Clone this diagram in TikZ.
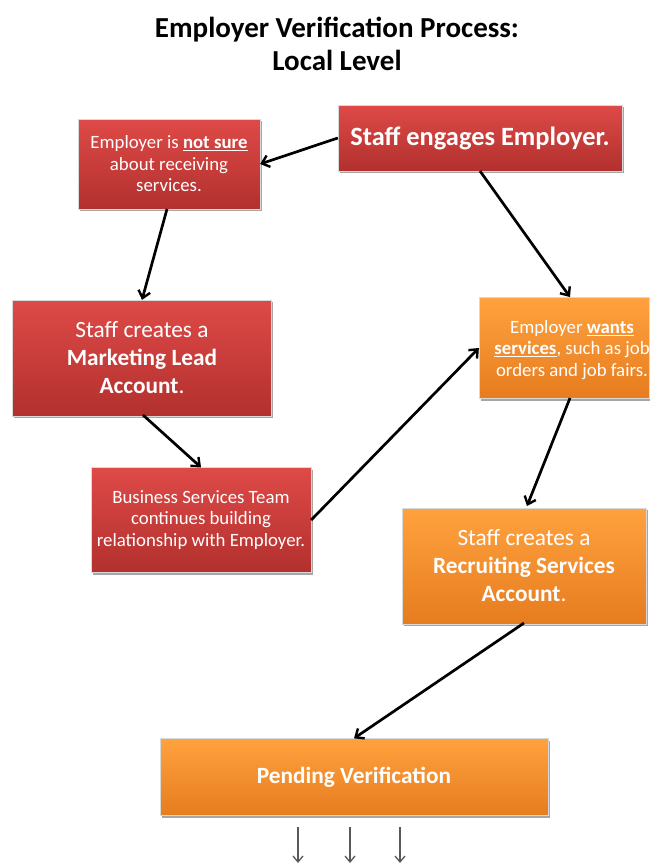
\documentclass[tikz,border=0pt]{standalone}
\usepackage{fontspec}
\setmainfont{Carlito}
\usetikzlibrary{arrows.meta,shadows}
\definecolor{redtop}{HTML}{DE4A47}
\definecolor{redbot}{HTML}{B2302E}
\definecolor{oratop}{HTML}{FFA23E}
\definecolor{orabot}{HTML}{E67C1F}
\newcommand{\wul}[1]{\underline{#1}}
\tikzset{
  box/.style={rectangle, text=white, align=center, inner sep=2pt,
    drop shadow={shadow xshift=1.5pt, shadow yshift=-2pt, opacity=0.35, fill=black},
    draw=black!15, line width=0.3pt},
  redbox/.style={box, top color=redtop, bottom color=redbot},
  orabox/.style={box, top color=oratop, bottom color=orabot},
  small/.style={font=\fontsize{18.8}{21.5}\selectfont},
  mid/.style={font=\fontsize{23.3}{28}\selectfont},
  conn/.style={-{Straight Barb[length=7pt,width=12pt,line width=2.4pt]}, line width=2.7pt, black},
  down/.style={-{Straight Barb[length=6pt,width=10pt,line width=1.3pt]}, line width=1.6pt, black!65}
}
\begin{document}
\begin{tikzpicture}[x=1pt,y=-1pt]
\useasboundingbox (0,0) rectangle (650,865);
\node[font=\fontsize{29}{33}\selectfont\bfseries, align=center] (title) at (337,44)
  {Employer Verification Process:\\Local Level};

\node[redbox, minimum width=284, minimum height=66, font=\fontsize{26.4}{30}\selectfont\bfseries] (engage) at (480,138) {Staff engages Employer.};
\node[redbox, small, minimum width=182, minimum height=90] (notsure) at (169,164)
  {Employer is \textbf{\wul{not sure}}\\about receiving\\services.};
\node[redbox, mid, minimum width=259, minimum height=116] (mla) at (142,358)
  {Staff creates a\\\textbf{Marketing Lead}\\\textbf{Account}.};
\node[redbox, small, minimum width=220, minimum height=105] (bst) at (201,520)
  {Business Services Team\\continues building\\relationship with Employer.};
\node[orabox, minimum width=170, minimum height=101] (wants) at (564,348) {};
\node[text=white, small, align=center, inner sep=0pt] (wantsT) at (572,350)
  {Employer \textbf{\wul{wants}}\\\textbf{\wul{services}}, such as job\\orders and job fairs.};
\node[orabox, mid, minimum width=244, minimum height=116] (rsa) at (524,566)
  {Staff creates a\\\textbf{Recruiting Services}\\\textbf{Account}.};
\node[orabox, minimum width=388, minimum height=77, font=\fontsize{23.3}{26}\selectfont\bfseries] (pend) at (354,777)
  {Pending Verification};

\draw[conn] (engage.west) -- (notsure.east);
\draw[conn] (167,209) -- (mla.north);
\draw[conn] (143,415) -- (bst.north);
\draw[conn] (bst.east) -- (wants.west);
\draw[conn] (480,171) -- (570,297);
\draw[conn] (570,398) -- (527,506);
\draw[conn] (524,623) -- (pend.north);

\coordinate (a1) at (298,827); \coordinate (b1) at (298,863);
\coordinate (a2) at (350,827); \coordinate (b2) at (350,863);
\coordinate (a3) at (400,827); \coordinate (b3) at (400,863);
\draw[down] (a1) -- (b1);
\draw[down] (a2) -- (b2);
\draw[down] (a3) -- (b3);
\end{tikzpicture}
\end{document}
